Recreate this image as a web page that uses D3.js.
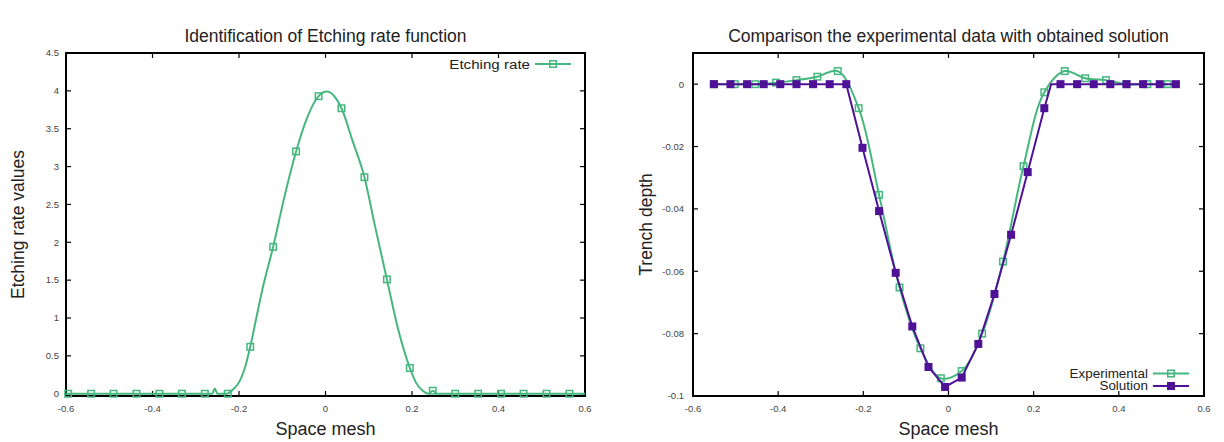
<!DOCTYPE html>
<html>
<head>
<meta charset="utf-8">
<script src="https://cdnjs.cloudflare.com/ajax/libs/d3/7.8.5/d3.min.js"></script>
<style>
  body { margin: 0; background: #fff; }
  svg { display: block; font-family: "Liberation Sans", Arial, sans-serif; }
</style>
</head>
<body>
<svg id="chart" width="1224" height="442"></svg>
<script>
// ---- left panel: identified etching rate ----
const rateMarkX = [-0.595, -0.542, -0.490, -0.437, -0.384, -0.332, -0.279, -0.226, -0.174, -0.121, -0.068, -0.016,
  0.037, 0.090, 0.142, 0.195, 0.248, 0.300, 0.353, 0.406, 0.458, 0.511, 0.564];
const rateMarkY = [0, 0, 0, 0, 0, 0, 0, 0, 0.62, 1.94, 3.20, 3.93,
  3.77, 2.86, 1.51, 0.34, 0.04, 0, 0, 0, 0, 0, 0];
// denser samples of the fitted curve
const rateCurveX = [-0.6, -0.27, -0.262, -0.256, -0.25, -0.228, -0.215, -0.2, -0.187, -0.174, -0.16, -0.145, -0.121,
  -0.095, -0.068, -0.04, -0.016, 0.003, 0.02, 0.037, 0.062, 0.090, 0.115, 0.142, 0.168, 0.195, 0.21, 0.225, 0.238,
  0.248, 0.258, 0.6];
const rateCurveY = [0, 0, 0, 0.07, 0, 0, 0.05, 0.15, 0.33, 0.62, 1.0, 1.4, 1.94,
  2.6, 3.20, 3.68, 3.93, 3.99, 3.93, 3.77, 3.35, 2.86, 2.2, 1.51, 0.85, 0.34, 0.14, 0.04, 0,
  0.04, 0, 0];

// ---- right panel: trench depth ----
const expX = [-0.551, -0.502, -0.454, -0.405, -0.357, -0.308, -0.260, -0.211, -0.163, -0.115, -0.066, -0.018,
  0.031, 0.079, 0.128, 0.176, 0.225, 0.273, 0.321, 0.370, 0.418, 0.467, 0.515];
const expY = [0, 0, 0, 0.0005, 0.0013, 0.0024, 0.0042, -0.0077, -0.0355, -0.0652, -0.0847, -0.0943,
  -0.0920, -0.0800, -0.0569, -0.0263, -0.0026, 0.0042, 0.0019, 0.0013, 0, 0, 0];
const solX = [-0.551, -0.512, -0.473, -0.434, -0.395, -0.357, -0.318, -0.279, -0.240, -0.202, -0.163, -0.124,
  -0.085, -0.047, -0.008, 0.031, 0.070, 0.108, 0.147, 0.186, 0.225, 0.263, 0.302, 0.341, 0.380, 0.418,
  0.457, 0.496, 0.534];
const solY = [0, 0, 0, 0, 0, 0, 0, 0, 0, -0.0204, -0.0407, -0.0605,
  -0.0777, -0.0907, -0.0971, -0.0941, -0.0833, -0.0673, -0.0483, -0.0282, -0.0077, 0, 0, 0, 0, 0,
  0, 0, 0];
// unmarked mesh node where the solution reaches the surface again
const solKinkX = [0.241];
const solKinkY = [0];

const xTicks = [-0.6, -0.4, -0.2, 0, 0.2, 0.4, 0.6];
const rateTicks = [0, 0.5, 1, 1.5, 2, 2.5, 3, 3.5, 4, 4.5];
const depthTicks = [0, -0.02, -0.04, -0.06, -0.08, -0.1];

const green = "#45b77e";
const purple = "#4f1296";

const svg = d3.select("#chart");

function drawFrame(g, x, y, yTicks, yFmt, opts) {
  const [x0, x1] = x.range();
  const [y0, y1] = y.range();
  const tick = 5;

  // ticks on all four sides, pointing inward
  xTicks.forEach((t) => {
    g.append("line").attr("x1", x(t)).attr("x2", x(t)).attr("y1", y0).attr("y2", y0 - tick)
      .attr("stroke", "#000").attr("stroke-width", 1.2);
    g.append("line").attr("x1", x(t)).attr("x2", x(t)).attr("y1", y1).attr("y2", y1 + tick)
      .attr("stroke", "#000").attr("stroke-width", 1.2);
    g.append("text").attr("x", x(t)).attr("y", y0 + 16)
      .attr("text-anchor", "middle").attr("font-size", 9.5).attr("fill", "#444")
      .text(t === 0 ? "0" : String(t));
  });
  yTicks.forEach((t) => {
    g.append("line").attr("x1", x0).attr("x2", x0 + tick).attr("y1", y(t)).attr("y2", y(t))
      .attr("stroke", "#000").attr("stroke-width", 1.2);
    g.append("line").attr("x1", x1).attr("x2", x1 - tick).attr("y1", y(t)).attr("y2", y(t))
      .attr("stroke", "#000").attr("stroke-width", 1.2);
    g.append("text").attr("x", x0 - opts.yLabelGap).attr("y", y(t)).attr("dy", "0.35em")
      .attr("text-anchor", "end").attr("font-size", 9.5).attr("fill", "#444")
      .text(yFmt(t));
  });

  g.append("rect").attr("x", x0).attr("y", y1).attr("width", x1 - x0).attr("height", y0 - y1)
    .attr("fill", "none").attr("stroke", "#000").attr("stroke-width", 2);

  g.append("text").attr("x", (x0 + x1) / 2).attr("y", 42)
    .attr("text-anchor", "middle").attr("font-size", 17.5).attr("fill", "#222")
    .text(opts.title);
  g.append("text").attr("x", (x0 + x1) / 2).attr("y", 435)
    .attr("text-anchor", "middle").attr("font-size", 18).attr("fill", "#222")
    .text("Space mesh");
  g.append("text")
    .attr("transform", `translate(${opts.yTitleX},${(y0 + y1) / 2}) rotate(-90)`)
    .attr("text-anchor", "middle").attr("font-size", 17.5).attr("fill", "#222")
    .text(opts.yTitle);
}

function squares(g, xs, ys, x, y, colour, filled) {
  const s = 6.5;
  g.selectAll(null).data(xs).enter().append("rect")
    .attr("x", (d) => x(d) - s / 2)
    .attr("y", (d, i) => y(ys[i]) - s / 2)
    .attr("width", s).attr("height", s)
    .attr("fill", filled ? colour : "none")
    .attr("stroke", colour).attr("stroke-width", 1.5);
}

function legendEntry(g, tx, ty, label, colour, filled, size) {
  // gnuplot key text is a little wider than the font height suggests
  g.append("text").attr("transform", `translate(${tx},${ty}) scale(1.12,1)`)
    .attr("dy", "0.35em")
    .attr("text-anchor", "end").attr("font-size", size).attr("fill", "#222")
    .text(label);
  g.append("line").attr("x1", tx + 5).attr("x2", tx + 41).attr("y1", ty).attr("y2", ty)
    .attr("stroke", colour).attr("stroke-width", 2);
  squares(g, [0], [0], () => tx + 23, () => ty, colour, filled);
}

// ---------- left ----------
{
  const g = svg.append("g");
  const x = d3.scaleLinear().domain([-0.6, 0.6]).range([66, 585]);
  const y = d3.scaleLinear().domain([-0.03, 4.5]).range([396, 53]);
  drawFrame(g, x, y, rateTicks, (t) => String(t), {
    title: "Identification of Etching rate function",
    yTitle: "Etching rate values",
    yTitleX: 24,
    yLabelGap: 7,
  });

  const line = d3.line().x((d) => x(d[0])).y((d) => y(d[1])).curve(d3.curveMonotoneX);
  g.append("path").datum(rateCurveX.map((v, i) => [v, rateCurveY[i]]))
    .attr("d", line).attr("fill", "none").attr("stroke", green).attr("stroke-width", 2);
  squares(g, rateMarkX, rateMarkY, x, y, green, false);

  legendEntry(g, 530, 64, "Etching rate", green, false, 13.5);
}

// ---------- right ----------
{
  const g = svg.append("g");
  const x = d3.scaleLinear().domain([-0.6, 0.6]).range([693, 1204]);
  const y = d3.scaleLinear().domain([-0.1, 0.01]).range([396, 53]);
  drawFrame(g, x, y, depthTicks, (t) => (t === 0 ? "0" : String(t)), {
    title: "Comparison the experimental data with obtained solution",
    yTitle: "Trench depth",
    yTitleX: 652,
    yLabelGap: 9,
  });

  const smooth = d3.line().x((d) => x(d[0])).y((d) => y(d[1])).curve(d3.curveCatmullRom.alpha(0.5));
  g.append("path").datum(expX.map((v, i) => [v, expY[i]]))
    .attr("d", smooth).attr("fill", "none").attr("stroke", green).attr("stroke-width", 2);
  squares(g, expX, expY, x, y, green, false);

  const solPts = solX.map((v, i) => [v, solY[i]])
    .concat(solKinkX.map((v, i) => [v, solKinkY[i]]))
    .sort((a, b) => a[0] - b[0]);
  const straight = d3.line().x((d) => x(d[0])).y((d) => y(d[1]));
  g.append("path").datum(solPts)
    .attr("d", straight).attr("fill", "none").attr("stroke", purple).attr("stroke-width", 2);
  squares(g, solX, solY, x, y, purple, true);

  legendEntry(g, 1148, 373.5, "Experimental", green, false, 12);
  legendEntry(g, 1148, 386, "Solution", purple, true, 12);
}
</script>
</body>
</html>
